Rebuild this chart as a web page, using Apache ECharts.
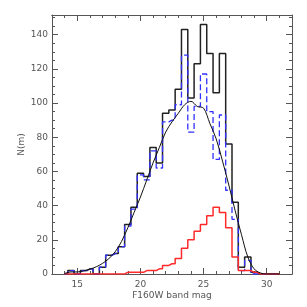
<!DOCTYPE html>
<html>
<head>
<meta charset="utf-8">
<script src="https://cdn.jsdelivr.net/npm/echarts@6/dist/echarts.min.js"></script>
<style>html,body{margin:0;padding:0;background:#fff}#c{width:307px;height:307px}</style>
</head>
<body>
<div id="c"></div>
<script>
// Bin centres (mag) for histograms
var mags = [14.0,14.5,15.0,15.5,16.0,16.5,17.0,17.5,18.0,18.5,19.0,19.5,20.0,20.5,21.0,21.5,22.0,22.5,23.0,23.5,24.0,24.5,25.0,25.5,26.0,26.5,27.0,27.5,28.0,28.5,29.0,29.5,30.0,30.5,31.0];
// Total counts (black solid)
var totalCounts = [0,2,0,2,3,0,4,11,12,16,29,39,59,57,74,65,94,96,108,143,103,123,146,129,106,129,76,42,4,10,1,0,0,0,0];
// Blue dashed counts
var blueCounts = [0,2,0,2,3,0,4,11,12,16,28,38,58,55,72,62,89,90,99,128,83,98,117,95,67,93,49,32,2,8,0,0,0,0,0];
// Red counts
var redCounts = [0,0,0,0,0,0,0,0,0,0,1,1,1,2,2,3,5,6,9,15,20,25,29,34,39,36,27,10,2,2,1,0,0,0,0];
// Smooth curve
var curveMag = [14.0,14.5,15.0,15.5,16.0,16.5,17.0,17.5,18.0,18.5,19.0,19.5,20.0,20.5,21.0,21.5,22.0,22.5,23.0,23.5,24.0,24.5,25.0,25.5,26.0,26.5,27.0,27.5,28.0,28.5,29.0,29.5,30.0,30.5,31.0];
var curveVal = [0.3,1.2,1.2,1.8,2.8,4.2,6.2,9,13,19,27,36,45,55,65,74,83,89,94,99,101,98,97,88,79,66,52,37,23,10,3,0.6,0,0,0];
// Tick labels
var xMajor = [15,20,25,30];
var xMinor = [13,14,16,17,18,19,21,22,23,24,26,27,28,29,31,32];

function pairs(xs, ys){ return xs.map(function(x,i){ return [x, ys[i]]; }); }

var axisCol = '#555';
var labelFont = {color:'#555', fontFamily:'DejaVu Sans', fontSize:9};

var chart = echarts.init(document.getElementById('c'), null, {renderer:'canvas'});
var baseX = {type:'value', min:13, max:32, splitLine:{show:false}, axisLine:{show:true, onZero:false, lineStyle:{color:axisCol, width:1}}};
var option = {
  animation:false,
  grid:{left:52, right:15, top:15, bottom:33, containLabel:false},
  xAxis:[
    Object.assign({}, baseX, {position:'bottom', name:'F160W band mag', nameLocation:'middle', nameGap:17, nameMoveOverlap:false,
      nameTextStyle:{color:'#555', fontFamily:'DejaVu Sans', fontSize:9},
      axisTick:{show:true, inside:true, length:6, customValues:xMajor, lineStyle:{color:axisCol}},
      axisLabel:Object.assign({show:true, margin:6, customValues:xMajor}, labelFont)}),
    Object.assign({}, baseX, {position:'bottom',
      axisTick:{show:true, inside:true, length:3, customValues:xMinor, lineStyle:{color:axisCol}},
      axisLabel:{show:false}}),
    Object.assign({}, baseX, {position:'top',
      axisTick:{show:true, inside:true, length:6, customValues:xMajor, lineStyle:{color:axisCol}},
      axisLabel:{show:false}}),
    Object.assign({}, baseX, {position:'top',
      axisTick:{show:true, inside:true, length:3, customValues:xMinor, lineStyle:{color:axisCol}},
      axisLabel:{show:false}})
  ],
  yAxis:[
    {type:'value', min:0, max:151.5, interval:20, position:'left',
     name:'N(m)', nameLocation:'middle', nameGap:26, nameRotate:90, nameMoveOverlap:false,
     nameTextStyle:{color:'#555', fontFamily:'DejaVu Sans', fontSize:9},
     splitLine:{show:false},
     axisLine:{show:true, lineStyle:{color:axisCol}},
     axisTick:{show:true, inside:true, length:6, lineStyle:{color:axisCol}},
     minorTick:{show:true, splitNumber:4, length:3, lineStyle:{color:axisCol}},
     axisLabel:Object.assign({margin:4, formatter:function(v){return (v%20===0)?String(v):'';}}, labelFont)},
    {type:'value', min:0, max:151.5, interval:20, position:'right',
     splitLine:{show:false},
     axisLine:{show:true, lineStyle:{color:axisCol}},
     axisTick:{show:true, inside:true, length:6, lineStyle:{color:axisCol}},
     minorTick:{show:true, splitNumber:4, length:3, lineStyle:{color:axisCol}},
     axisLabel:{show:false}}
  ],
  series:[
    {type:'line', name:'total', step:'middle', data:pairs(mags,totalCounts), showSymbol:false, symbol:'none',
     lineStyle:{color:'#222', width:1.5}, z:3},
    {type:'line', name:'blue', step:'middle', data:pairs(mags,blueCounts), showSymbol:false, symbol:'none',
     lineStyle:{color:'#3030ff', width:1.3, type:[6,3]}, z:4},
    {type:'line', name:'red', step:'middle', data:pairs(mags,redCounts), showSymbol:false, symbol:'none',
     lineStyle:{color:'#ff2a2a', width:1.5}, z:5},
    {type:'line', name:'curve', smooth:0.35, data:pairs(curveMag,curveVal), showSymbol:false, symbol:'none',
     lineStyle:{color:'#111', width:1}, z:6}
  ]
};
chart.setOption(option);
</script>
</body>
</html>
